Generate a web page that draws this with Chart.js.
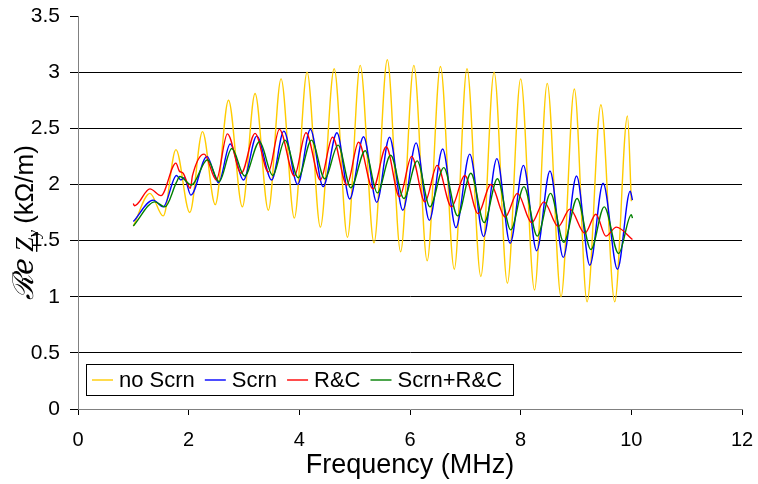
<!DOCTYPE html>
<html>
<head>
<meta charset="utf-8">
<script src="https://cdn.jsdelivr.net/npm/chart.js@4.4.1/dist/chart.umd.min.js"></script>
<style>
  html, body { margin: 0; padding: 0; background: #fff; }
  #wrap { position: relative; width: 758px; height: 484px; }
</style>
</head>
<body>
<div id="wrap"><canvas id="c" width="758" height="484"></canvas></div>
<script>
// ---- data (frequency in MHz, Re Zy in kOhm/m) ----
const xTicks = [0, 2, 4, 6, 8, 10, 12];
const yTicks = [0, 0.5, 1, 1.5, 2, 2.5, 3, 3.5];
const seriesNames = ['no Scrn', 'Scrn', 'R&C', 'Scrn+R&C'];

const noScrnX = [1.00, 1.30, 1.54, 1.77, 2.02, 2.25, 2.48, 2.72, 2.97, 3.20, 3.44, 3.67, 3.91, 4.14, 4.38, 4.63, 4.87, 5.10, 5.35, 5.59, 5.83, 6.07, 6.31, 6.55, 6.80, 7.03, 7.28, 7.52, 7.76, 8.00, 8.25, 8.48, 8.73, 8.97, 9.20, 9.45, 9.70, 9.93, 10.00];
const noScrnY = [1.63, 1.92, 1.72, 2.31, 1.75, 2.47, 1.82, 2.75, 1.80, 2.81, 1.77, 2.94, 1.70, 3.00, 1.62, 3.03, 1.53, 3.06, 1.48, 3.11, 1.40, 3.06, 1.32, 3.05, 1.245, 3.03, 1.18, 3.00, 1.12, 2.94, 1.06, 2.90, 1.00, 2.85, 0.955, 2.71, 0.955, 2.61, 1.85];

const scrnX = [1.00, 1.36, 1.54, 1.78, 1.86, 1.92, 2.04, 2.33, 2.54, 2.75, 2.99, 3.23, 3.50, 3.72, 3.97, 4.20, 4.43, 4.68, 4.91, 5.16, 5.40, 5.63, 5.87, 6.11, 6.35, 6.59, 6.83, 7.08, 7.33, 7.57, 7.81, 8.05, 8.29, 8.53, 8.77, 9.01, 9.25, 9.49, 9.75, 9.98, 10.02];
const scrnY = [1.67, 1.86, 1.80, 2.08, 2.04, 2.06, 1.905, 2.25, 2.015, 2.36, 2.04, 2.43, 2.04, 2.475, 2.00, 2.49, 1.98, 2.46, 1.87, 2.425, 1.84, 2.42, 1.77, 2.37, 1.68, 2.315, 1.615, 2.27, 1.535, 2.23, 1.475, 2.17, 1.41, 2.12, 1.35, 2.075, 1.28, 2.01, 1.245, 1.94, 1.86];

const rcX = [1.00, 1.02, 1.08, 1.30, 1.50, 1.77, 1.83, 1.90, 2.03, 2.07, 2.28, 2.50, 2.70, 2.95, 3.20, 3.44, 3.64, 3.91, 4.12, 4.38, 4.60, 4.86, 5.07, 5.33, 5.57, 5.81, 6.03, 6.27, 6.49, 6.75, 6.99, 7.23, 7.46, 7.72, 7.94, 8.20, 8.42, 8.68, 8.89, 9.16, 9.36, 9.54, 9.73, 10.02];
const rcY = [1.83, 1.81, 1.83, 1.96, 1.90, 2.19, 2.12, 2.10, 1.965, 2.08, 2.27, 2.04, 2.45, 2.10, 2.455, 2.11, 2.49, 2.075, 2.46, 2.04, 2.42, 1.995, 2.375, 1.96, 2.335, 1.89, 2.25, 1.845, 2.17, 1.80, 2.08, 1.74, 2.00, 1.71, 1.92, 1.66, 1.845, 1.625, 1.78, 1.565, 1.735, 1.54, 1.62, 1.51];

const scrnRcX = [1.00, 1.39, 1.57, 1.78, 1.84, 2.05, 2.34, 2.55, 2.78, 3.01, 3.28, 3.52, 3.74, 3.98, 4.22, 4.46, 4.70, 4.93, 5.19, 5.41, 5.65, 5.89, 6.13, 6.36, 6.61, 6.86, 7.10, 7.34, 7.58, 7.82, 8.06, 8.30, 8.54, 8.78, 9.02, 9.27, 9.51, 9.77, 10.00, 10.02];
const scrnRcY = [1.63, 1.845, 1.80, 2.02, 2.07, 1.995, 2.22, 2.025, 2.32, 2.075, 2.38, 2.08, 2.395, 2.06, 2.395, 2.05, 2.35, 1.97, 2.30, 1.925, 2.26, 1.875, 2.21, 1.80, 2.15, 1.72, 2.10, 1.66, 2.05, 1.595, 1.98, 1.54, 1.92, 1.485, 1.875, 1.42, 1.80, 1.385, 1.73, 1.70];

const seriesColors = ['#FFCC00', '#0000FF', '#FF0000', '#008000'];

function pts(xs, ys) { return xs.map((x, i) => ({ x: x, y: ys[i] })); }
const allX = [noScrnX, scrnX, rcX, scrnRcX];
const allY = [noScrnY, scrnY, rcY, scrnRcY];

const datasets = seriesNames.map((name, i) => ({
  label: name,
  data: pts(allX[i], allY[i]),
  borderColor: seriesColors[i],
  backgroundColor: seriesColors[i],
  borderWidth: 1.4,
  pointRadius: 0,
  fill: false,
  cubicInterpolationMode: 'monotone',
  order: 4 - i
}));

// ---- y-axis title (rotated, with subscript) ----
const yTitlePlugin = {
  id: 'yTitle',
  afterDraw(chart) {
    const ctx = chart.ctx;
    ctx.save();
    ctx.translate(33, 300);
    ctx.rotate(-Math.PI / 2);
    ctx.fillStyle = '#000';
    ctx.textBaseline = 'alphabetic';
    ctx.textAlign = 'left';
    let t = 0;
    ctx.font = 'italic 29px "DejaVu Serif", serif';
    ctx.fillText('\u211Be', t, 0);
    t += ctx.measureText('\u211Be').width + 6;
    ctx.font = 'italic 26px "Liberation Serif", serif';
    ctx.fillText('Z', t, 0);
    const zw = ctx.measureText('Z').width;
    ctx.fillRect(t, 3, zw, 1.4);
    t += zw;
    ctx.font = 'italic 17px "Liberation Serif", serif';
    ctx.fillText('y', t, 6);
    t += ctx.measureText('y').width + 6;
    ctx.font = '26px "Liberation Sans", Arial, sans-serif';
    ctx.fillText('(k\u03A9/m)', t, 0);
    ctx.restore();
  }
};

// ---- legend box inside the plot area ----
const boxLegendPlugin = {
  id: 'boxLegend',
  afterDatasetsDraw(chart) {
    const ctx = chart.ctx;
    const x0 = 86, y0 = 364, w = 427, h = 31;
    ctx.save();
    ctx.fillStyle = '#fff';
    ctx.fillRect(x0, y0, w, h);
    ctx.strokeStyle = '#000';
    ctx.lineWidth = 1;
    ctx.strokeRect(x0 + 0.5, y0 + 0.5, w, h);
    ctx.font = '22px "Liberation Sans", Arial, sans-serif';
    ctx.textBaseline = 'middle';
    ctx.textAlign = 'left';
    const cy = y0 + h / 2 + 0.5;
    let x = x0 + 6;
    seriesNames.forEach((name, i) => {
      ctx.strokeStyle = seriesColors[i];
      ctx.lineWidth = 1.4;
      ctx.beginPath();
      ctx.moveTo(x, cy);
      ctx.lineTo(x + 21, cy);
      ctx.stroke();
      x += 27;
      ctx.fillStyle = '#000';
      ctx.fillText(name, x, cy + 1);
      x += ctx.measureText(name).width + 10;
    });
    ctx.restore();
  }
};

Chart.defaults.font.family = '"Liberation Sans", Arial, sans-serif';
Chart.defaults.color = '#000';

new Chart(document.getElementById('c'), {
  type: 'line',
  data: { datasets: datasets },
  options: {
    responsive: false,
    animation: false,
    events: [],
    layout: { padding: { top: 16, right: 16, left: 0, bottom: 0 } },
    plugins: { legend: { display: false }, tooltip: { enabled: false } },
    scales: {
      x: {
        type: 'linear',
        min: 0, max: 12,
        afterBuildTicks(scale) { scale.ticks = xTicks.map(v => ({ value: v })); },
        afterFit(scale) { scale.height = 75; scale.paddingLeft = 0; scale.paddingRight = 0; },
        ticks: { font: { size: 20 }, color: '#000', padding: 13, maxRotation: 0, callback: (v) => String(v) },
        grid: { drawOnChartArea: false, drawTicks: true, tickLength: 6, tickColor: '#000', tickWidth: 1 },
        border: { display: true, color: '#808080', width: 1 },
        title: { display: true, text: 'Frequency (MHz)', font: { size: 27 }, color: '#000', padding: { top: 0, bottom: 2 } }
      },
      y: {
        type: 'linear',
        min: 0, max: 3.5,
        afterBuildTicks(scale) { scale.ticks = yTicks.map(v => ({ value: v })); },
        afterFit(scale) { scale.width = 78; scale.paddingTop = 0; scale.paddingBottom = 0; },
        ticks: { font: { size: 21 }, color: '#000', padding: 10, callback: (v) => String(v) },
        grid: {
          color: (c) => (c.tick && (c.tick.value === 0 || c.tick.value === 3.5)) ? 'rgba(0,0,0,0)' : '#000',
          lineWidth: 1,
          drawTicks: true, tickLength: 8, tickColor: '#000', tickWidth: 1
        },
        border: { display: true, color: '#808080', width: 1 }
      }
    }
  },
  plugins: [yTitlePlugin, boxLegendPlugin]
});
</script>
</body>
</html>
